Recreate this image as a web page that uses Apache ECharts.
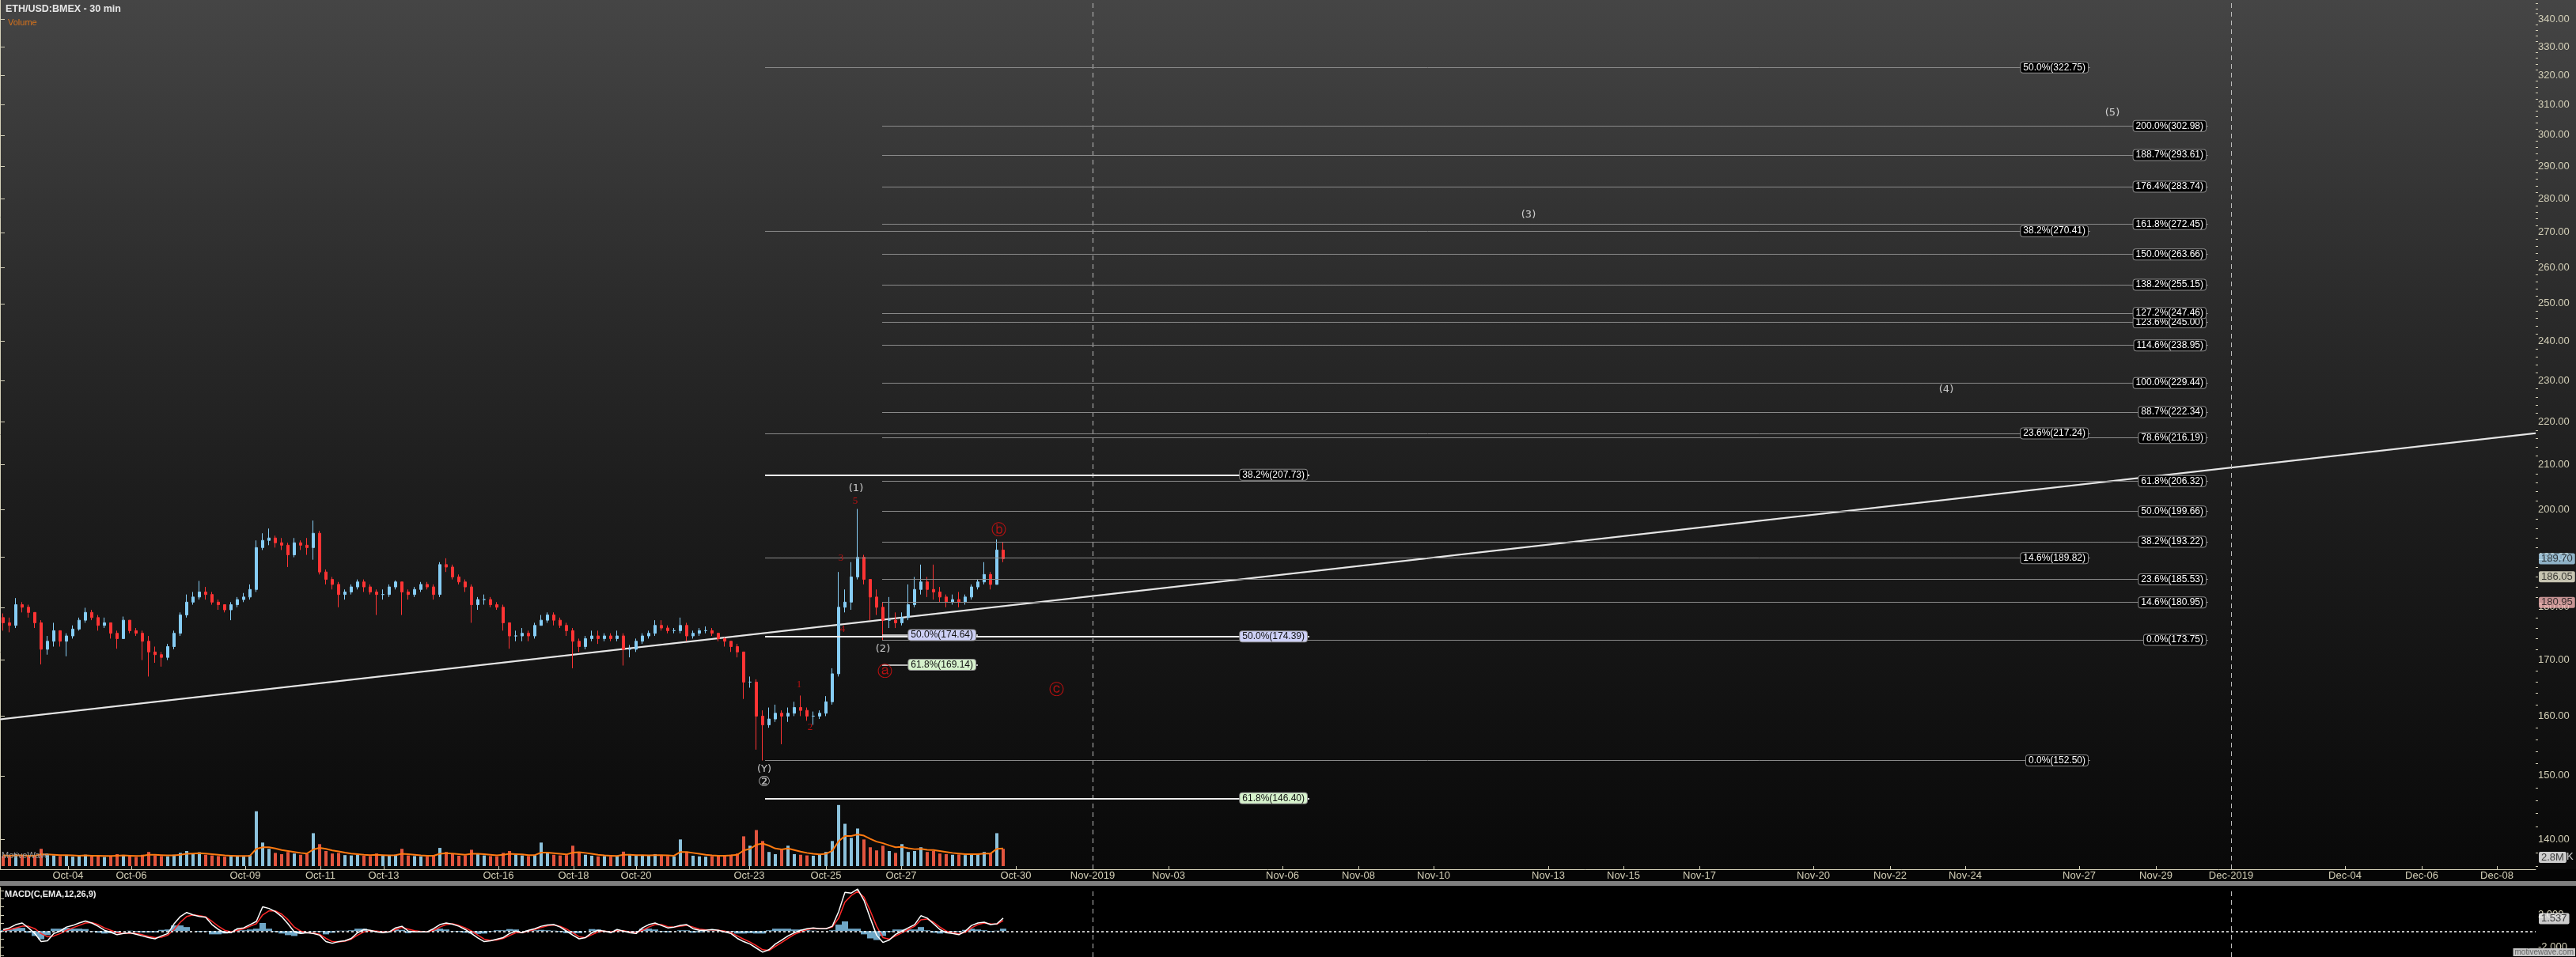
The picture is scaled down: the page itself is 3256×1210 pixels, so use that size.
<!DOCTYPE html>
<html><head><meta charset="utf-8">
<script src="https://cdn.jsdelivr.net/npm/echarts@6/dist/echarts.min.js"></script>
<style>
html,body{margin:0;padding:0;background:#000;}
#c{width:3256px;height:1210px;background:linear-gradient(to bottom,#454545 0px,#2b2b2b 380px,#1d1d1d 620px,#0b0b0b 1050px,#090909 1099px,#050505 1099px,#050505 1114px,#7f7f7f 1114px,#7f7f7f 1120px,#000 1120px,#000 1210px);}
</style></head><body><div id="c"></div><script>
// ---------- DATA ----------
const barsPerCandle = 8; // one drawn candle = 8 thirty-minute bars (4h)
// [open, close, low, high]
const ohlc = [
[178.0,177.0,175.5,178.8],[177.0,176.5,175.2,178.0],[176.5,180.5,176.0,181.8],[180.5,180.0,179.0,181.0],[180.0,179.0,178.0,180.5],
[179.0,177.0,176.0,179.0],[177.0,172.0,169.2,177.5],[172.0,173.5,171.0,174.5],[173.5,175.5,172.5,177.0],[175.5,173.5,172.5,175.5],
[173.5,174.5,170.7,175.0],[174.5,175.8,174.0,176.5],[175.8,177.5,175.5,178.0],[177.5,179.0,177.0,179.9],[179.0,178.0,177.5,179.5],
[178.0,176.5,175.5,178.5],[176.5,177.0,176.0,178.0],[177.0,175.0,174.0,177.0],[175.0,174.0,172.1,175.5],[174.0,177.5,174.0,178.2],
[177.5,175.5,175.0,177.5],[175.5,175.0,174.5,176.0],[175.0,173.5,170.0,175.5],[173.5,171.5,167.0,174.5],[171.5,171.0,169.5,172.5],
[171.0,170.5,168.8,171.5],[170.5,172.5,170.0,173.0],[172.5,175.0,172.0,175.5],[175.0,178.5,174.5,179.0],[178.5,181.0,178.0,182.5],
[181.0,182.0,180.5,183.0],[182.0,183.0,181.5,185.2],[183.0,182.5,181.5,184.0],[182.5,181.0,180.5,183.0],[181.0,180.5,179.5,181.5],
[180.5,179.5,179.0,180.5],[179.5,180.5,177.5,181.0],[180.5,181.5,180.0,182.0],[181.5,182.0,181.0,182.8],[182.0,183.5,181.5,184.5],
[183.5,192.0,183.0,193.5],[192.0,193.5,191.5,195.0],[193.5,194.0,192.5,196.0],[194.0,193.0,192.0,194.5],[193.0,192.5,191.5,194.0],
[192.5,190.5,188.0,193.0],[190.5,193.0,190.0,194.0],[193.0,192.5,191.5,193.5],[192.5,192.0,190.5,194.0],[192.0,195.0,189.5,197.7],
[195.0,187.0,186.5,195.5],[187.0,185.5,184.5,187.5],[185.5,184.5,183.5,186.0],[184.5,182.5,180.0,185.0],[182.5,183.0,181.5,183.5],
[183.0,184.0,182.5,184.5],[184.0,185.0,183.5,185.5],[185.0,184.0,183.0,185.5],[184.0,183.0,182.5,184.5],[183.0,182.5,178.5,183.5],
[182.5,182.5,181.5,183.5],[182.5,184.0,182.0,184.5],[184.0,185.0,183.5,185.3],[185.0,183.0,178.5,185.0],[183.0,182.5,181.5,183.5],
[182.5,183.5,182.0,184.0],[183.5,184.5,183.0,185.0],[184.5,184.0,183.5,185.0],[184.0,182.5,181.5,184.5],[182.5,188.5,182.0,189.0],
[188.5,188.0,187.0,189.8],[188.0,186.0,185.5,188.5],[186.0,185.0,184.5,186.5],[185.0,184.0,183.0,185.5],[184.0,180.5,177.0,184.5],
[180.5,181.5,179.5,182.0],[181.5,181.5,180.5,182.5],[181.5,180.5,180.0,182.0],[180.5,180.0,179.5,181.0],[180.0,177.0,175.5,180.5],
[177.0,174.5,172.1,177.0],[174.5,174.5,173.5,175.5],[174.5,175.0,173.5,176.0],[175.0,174.5,173.5,175.5],[174.5,176.5,174.0,177.0],
[176.5,177.5,176.5,178.5],[177.5,178.5,177.0,179.0],[178.5,177.5,176.5,179.0],[177.5,176.5,176.0,178.0],[176.5,175.5,174.5,177.0],
[175.5,173.5,168.5,176.0],[173.5,172.5,171.5,174.0],[172.5,174.0,172.0,174.5],[174.0,174.5,173.5,175.5],[174.5,174.0,173.0,175.5],
[174.0,174.5,173.5,175.0],[174.5,174.0,173.5,175.0],[174.0,174.5,173.5,175.5],[174.5,172.0,169.0,175.0],[172.0,172.0,170.5,172.8],
[172.0,173.5,171.5,174.0],[173.5,174.5,173.0,175.0],[174.5,175.0,174.0,175.5],[175.0,176.5,174.5,177.5],[176.5,176.0,175.5,177.5],
[176.0,175.5,175.0,176.5],[175.5,175.5,175.0,176.0],[175.5,176.5,175.0,178.0],[176.5,174.5,173.5,177.0],[174.5,175.0,174.0,175.5],
[175.0,175.5,174.5,176.0],[175.5,175.5,175.0,176.3],[175.5,175.0,174.5,176.0],[175.0,174.0,173.5,175.0],[174.0,173.5,172.5,174.2],
[173.5,172.5,171.5,173.5],[172.5,171.5,170.5,173.0],[171.5,166.0,163.0,171.5],[166.0,166.0,165.0,167.0],[166.0,160.0,154.3,166.5],
[160.0,158.5,152.5,161.0],[158.5,159.5,158.0,161.5],[159.5,160.5,159.0,162.0],[160.5,160.0,155.2,161.0],[160.0,160.5,159.0,161.5],
[160.5,161.5,160.0,162.5],[161.5,161.0,160.0,163.6],[161.0,160.0,159.2,161.5],[160.0,160.0,158.5,160.8],[160.0,160.5,159.5,161.0],
[160.5,162.5,160.0,163.5],[162.5,167.5,162.0,168.5],[167.5,180.0,167.0,187.0],[180.0,181.0,179.0,183.5],[181.0,186.0,179.5,189.0],
[186.0,190.0,185.5,200.2],[190.0,185.5,184.5,190.5],[185.5,182.0,177.5,185.5],[182.0,180.0,178.5,183.5],[180.0,177.5,173.7,181.0],
[177.5,177.5,176.0,182.0],[177.5,177.0,176.0,179.0],[177.0,178.0,176.5,179.0],[178.0,180.5,177.5,184.5],[180.5,183.5,180.0,186.0],
[183.5,185.0,182.5,188.5],[185.0,183.5,182.0,186.0],[183.5,183.0,181.5,188.5],[183.0,182.0,181.0,184.0],[182.0,181.0,180.0,182.5],
[181.0,181.5,180.5,182.5],[181.5,181.0,180.0,183.0],[181.0,182.0,180.5,182.5],[182.0,184.0,181.5,184.5],[184.0,185.0,183.5,185.5],
[185.0,186.5,184.5,189.0],[186.5,184.5,183.5,187.0],[184.5,191.5,184.5,193.7],[191.5,189.7,189.0,193.2]
];
// volume (millions, per 30-min bar as shown)
const volume = [
3.2,3.0,3.8,3.4,3.1,3.3,5.5,3.6,3.4,3.2, 3.5,3.0,3.2,3.6,3.1,3.3,2.9,3.2,3.8,3.5,
3.1,2.9,3.6,4.5,3.4,3.2,3.1,3.6,4.2,4.8, 3.9,4.4,3.6,3.4,3.2,3.0,3.3,3.1,3.0,3.5,
17.5,7.5,5.5,4.2,3.8,4.5,4.0,3.6,3.9,10.5, 7.0,4.8,4.0,4.2,3.5,3.4,3.6,3.3,3.2,4.0,
3.3,3.4,3.6,5.5,3.4,3.2,3.1,3.0,3.5,5.8, 4.5,3.8,3.3,3.4,5.2,3.8,3.4,3.2,3.1,4.2,
4.8,3.6,3.4,3.2,3.5,7.5,4.2,3.6,3.4,3.5, 6.5,4.5,3.6,3.3,3.1,3.2,3.0,3.1,4.6,3.8,
3.4,3.5,3.3,3.8,3.4,3.2,3.1,8.5,4.4,3.3, 3.1,3.0,3.2,3.4,3.3,3.6,4.0,9.5,6.5,11.5,
8.0,4.5,3.8,5.5,6.5,3.8,3.6,3.4,3.3,3.6, 4.5,8.0,19.5,13.5,9.0,12.0,8.5,6.0,5.0,6.5,
4.8,4.2,7.0,4.5,4.8,6.0,4.5,4.8,4.0,3.8, 3.6,3.7,3.5,4.0,3.8,4.5,4.0,10.5,5.5
];
const volumeMA = [
3.4,3.3,3.4,3.4,3.3,3.3,3.7,3.7,3.6,3.5, 3.5,3.4,3.3,3.4,3.3,3.3,3.2,3.2,3.3,3.4,
3.3,3.2,3.3,3.6,3.6,3.5,3.4,3.4,3.6,3.9, 4.0,4.1,4.0,3.8,3.6,3.4,3.3,3.2,3.2,3.3,
5.5,6.0,6.0,5.6,5.1,4.8,4.5,4.2,4.0,5.3, 5.8,5.5,5.0,4.7,4.3,4.0,3.8,3.6,3.5,3.6,
3.5,3.4,3.5,3.9,3.8,3.6,3.4,3.3,3.3,3.9, 4.1,4.0,3.8,3.6,3.9,3.9,3.8,3.6,3.4,3.6,
3.9,3.8,3.7,3.5,3.5,4.3,4.3,4.1,3.9,3.7, 4.3,4.4,4.2,3.9,3.6,3.4,3.3,3.2,3.6,3.6,
3.5,3.5,3.4,3.5,3.5,3.4,3.3,4.5,4.5,4.2, 3.9,3.6,3.4,3.3,3.3,3.4,3.6,5.0,5.5,6.8,
7.2,6.5,5.6,5.3,5.6,5.1,4.6,4.2,3.9,3.7, 3.9,4.9,7.9,9.6,9.6,10.1,9.7,8.7,7.8,7.3,
6.6,6.0,6.1,5.7,5.4,5.5,5.2,5.1,4.8,4.5, 4.2,4.0,3.8,3.8,3.8,4.0,4.0,5.5,5.6
];
const macdLine = [
0.2,0.4,0.8,1.0,0.4,-0.3,-1.3,-1.2,-0.3,0.0, 0.5,0.7,1.0,1.25,1.0,0.6,0.1,-0.15,-0.45,-0.3,
-0.2,-0.4,-0.6,-0.8,-0.95,-0.6,-0.3,0.9,1.8,2.3, 2.0,1.8,1.7,0.8,0.2,-0.2,-0.2,0.3,0.4,0.8,
1.2,3.0,2.8,2.4,1.8,0.9,-0.1,-0.3,-0.2,-0.3, -0.5,-1.3,-1.5,-1.3,-1.2,-0.9,-0.2,0.2,0.1,-0.1,
-0.2,-0.1,0.4,0.6,0.0,-0.1,-0.1,-0.1,0.3,0.8, 1.0,0.85,0.6,0.2,-0.3,-0.85,-1.3,-1.2,-1.0,-0.8,
-0.3,0.0,-0.2,0.1,0.3,0.6,0.75,0.8,0.5,0.0, -0.5,-0.95,-0.8,-0.2,0.1,0.0,-0.2,0.2,0.0,-0.2,
-0.3,0.4,0.8,1.0,0.7,0.4,0.5,0.7,0.8,0.3, 0.1,0.1,0.2,0.1,-0.1,-0.3,-0.9,-1.3,-1.6,-2.1,
-2.6,-2.3,-1.6,-1.1,-0.6,-0.2,0.1,0.3,0.4,0.3, 0.3,0.6,2.4,4.8,4.7,5.2,3.8,1.6,-0.5,-1.4,
-1.1,-0.4,0.0,0.4,0.8,1.9,1.6,0.9,0.2,-0.2, -0.3,-0.45,0.0,0.7,1.0,1.1,0.8,0.9,1.6
];
const signalLine = [
0.1,0.2,0.4,0.6,0.6,0.3,-0.3,-0.7,-0.6,-0.3, 0.1,0.4,0.7,1.0,1.05,0.8,0.4,0.1,-0.2,-0.3,
-0.25,-0.3,-0.45,-0.65,-0.8,-0.75,-0.5,0.2,1.1,1.8, 2.0,1.9,1.75,1.2,0.6,0.1,-0.1,0.1,0.3,0.6,
0.9,2.0,2.5,2.5,2.1,1.4,0.5,0.0,-0.2,-0.25, -0.4,-0.9,-1.3,-1.35,-1.25,-1.0,-0.5,-0.1,0.05,0.0,
-0.1,-0.1,0.2,0.45,0.25,0.05,-0.05,-0.1,0.1,0.5, 0.8,0.9,0.7,0.4,0.0,-0.5,-1.0,-1.15,-1.1,-0.9,
-0.55,-0.2,-0.2,0.0,0.2,0.45,0.65,0.75,0.6,0.25, -0.2,-0.7,-0.8,-0.45,-0.1,0.0,-0.1,0.05,0.05,-0.1,
-0.2,0.1,0.5,0.8,0.8,0.55,0.5,0.6,0.7,0.5, 0.25,0.15,0.15,0.1,0.0,-0.2,-0.6,-1.0,-1.35,-1.8,
-2.3,-2.4,-1.9,-1.4,-0.9,-0.4,-0.1,0.2,0.35,0.3, 0.3,0.5,1.6,3.6,4.4,4.9,4.2,2.5,0.6,-0.8,
-1.0,-0.6,-0.2,0.2,0.6,1.4,1.5,1.1,0.5,0.0, -0.2,-0.35,-0.15,0.4,0.8,1.0,0.9,0.85,1.3
];
const macdHist = [
0.1,0.2,0.4,0.4,-0.2,-0.6,-1.0,-0.5,0.3,0.3, 0.4,0.3,0.3,0.25,-0.05,-0.2,-0.3,-0.25,-0.25,0.0,
0.05,-0.1,-0.15,-0.15,-0.15,0.15,0.2,0.7,0.7,0.5, 0.0,-0.1,-0.05,-0.4,-0.4,-0.3,-0.1,0.2,0.1,0.2,
0.3,1.0,0.3,-0.1,-0.3,-0.5,-0.6,-0.3,0.0,-0.05, -0.1,-0.4,-0.2,0.05,0.05,0.1,0.3,0.3,0.05,-0.1,
-0.1,0.0,0.2,0.15,-0.25,-0.15,-0.05,0.0,0.2,0.3, 0.2,-0.05,-0.1,-0.2,-0.3,-0.35,-0.3,-0.05,0.1,0.1,
0.25,0.2,0.0,0.1,0.1,0.15,0.1,0.05,-0.1,-0.25, -0.3,-0.25,0.0,0.25,0.2,0.0,-0.1,0.15,-0.05,-0.1,
-0.1,0.3,0.3,0.2,-0.1,-0.15,0.0,0.1,0.1,-0.2, -0.15,-0.05,0.05,0.0,-0.1,-0.1,-0.3,-0.3,-0.25,-0.3,
-0.3,0.1,0.3,0.3,0.3,0.2,0.2,0.1,0.05,0.0, 0.0,0.1,0.8,1.2,0.3,0.3,-0.4,-0.9,-1.1,-0.6,
-0.1,0.2,0.2,0.2,0.2,0.5,0.1,-0.2,-0.3,-0.2, -0.1,-0.1,0.15,0.3,0.2,0.1,-0.1,0.05,0.3
];
// x axis (in 30-min bar units)
const xTickBars = [86,166,310,405,485,630,725,804,947,1044,1139,1284,1381,1477,1621,1717,1812,1957,2052,2148,2292,2389,2484,2628,2725,2820,2964,3061,3156];
const xTickLabels = ['Oct-04','Oct-06','Oct-09','Oct-11','Oct-13','Oct-16','Oct-18','Oct-20','Oct-23','Oct-25','Oct-27','Oct-30','Nov-2019','Nov-03','Nov-06','Nov-08','Nov-10','Nov-13','Nov-15','Nov-17','Nov-20','Nov-22','Nov-24','Nov-27','Nov-29','Dec-2019','Dec-04','Dec-06','Dec-08'];
const monthLines = [1381, 2820];
const priceTicks = [140,150,160,170,180,190,200,210,220,230,240,250,260,270,280,290,300,310,320,330,340];
const macdTicks = [-2, 2];
// Fibonacci levels
const fibOuter = [[322.75,'50.0%'],[270.41,'38.2%'],[217.24,'23.6%'],[189.82,'14.6%'],[152.50,'0.0%']];
const fibExt = [[302.98,'200.0%'],[293.61,'188.7%'],[283.74,'176.4%'],[272.45,'161.8%'],[263.66,'150.0%'],[255.15,'138.2%'],[245.00,'123.6%'],[247.46,'127.2%'],[238.95,'114.6%'],[229.44,'100.0%'],[222.34,'88.7%'],[216.19,'78.6%'],[206.32,'61.8%'],[199.66,'50.0%'],[193.22,'38.2%'],[185.53,'23.6%'],[180.95,'14.6%'],[173.75,'0.0%']];
const fibMain = [[207.73,'38.2%','k'],[174.39,'50.0%','v'],[146.40,'61.8%','g']];
const fibShort = [[174.64,'50.0%','v'],[169.14,'61.8%','g']];
const trendLine = [[0,159.45],[3205,217.3]];
const waveWhite = [[2670,307.4,'(5)'],[1932,275.3,'(3)'],[2460,227.7,'(4)'],[1082,204.6,'(1)'],[1116,172.0,'(2)'],[966,151.0,'(Y)']];
const waveWhiteCircle = [[966,148.9,'\u2461']];
const waveRed = [[1081,201.9,'5'],[1063,189.9,'3'],[1065,175.8,'4'],[1010,165.6,'1'],[1024,158.1,'2']];
const waveRedCircle = [[1262,195.6,'\u24d1'],[1118,167.7,'\u24d0'],[1335,164.5,'\u24d2']];
const priceMarkers = [[189.70,'#acd8f2'],[186.05,'#f2f0d8'],[180.95,'#f4b4b4']];
const lastVolume = 2.8;
const lastMacd = 1.537;

// ---------- CHART ----------
const FONT = 'Liberation Sans, Arial, sans-serif';
const AXIS_COL = '#d4d0b8';
const XMAX = 3205;
const cx = i => i * barsPerCandle + barsPerCandle / 2;
const minor = [];
for (let v = 136; v <= 346; v += 2) if (v % 10 !== 0) minor.push(v);
const labelMap = {};
xTickBars.forEach((b, i) => labelMap[b] = xTickLabels[i]);

const boxBg = {k: '#000000', v: '#cdd0f6', g: '#d6f2cc'};
const boxFg = {k: '#ffffff', v: '#101010', g: '#101010'};
function fibItem(x1, x2, price, pct, kind, lineCol, lw) {
  return [{
    coord: [x1, price],
    lineStyle: {color: lineCol, width: lw, type: 'solid'},
    label: {show: true, position: 'insideEnd', distance: 3, formatter: pct + '(' + price.toFixed(2) + ')',
      color: boxFg[kind], backgroundColor: boxBg[kind], borderColor: '#8c8c8c', borderWidth: 1,
      borderRadius: 3, padding: [1, 3, 0, 3], fontSize: 12, fontFamily: FONT}
  }, {coord: [x2, price]}];
}
const markData = [];
monthLines.forEach(x => markData.push({xAxis: x, lineStyle: {type: [6, 5], color: '#bdbdbd', width: 1}, label: {show: false}}));
fibOuter.forEach(f => markData.push(fibItem(967, 2642, f[0], f[1], 'k', '#8a8a8a', 1)));
fibExt.forEach(f => markData.push(fibItem(1115, 2791, f[0], f[1], 'k', '#8a8a8a', 1)));
fibMain.forEach(f => markData.push(fibItem(967, 1655, f[0], f[1], f[2], '#ececec', 2)));
fibShort.forEach(f => markData.push(fibItem(1115, 1236, f[0], f[1], f[2], '#ececec', 1.5)));

const candleData = ohlc.map((d, i) => [cx(i), d[0], d[1], d[2], d[3]]);
const volData = volume.map((v, i) => ({value: [cx(i), v], itemStyle: {color: ohlc[i][1] >= ohlc[i][0] ? '#8cc2dc' : '#e2553f'}}));

const chart = echarts.init(document.getElementById('c'), null, {renderer: 'canvas'});
chart.setOption({
  backgroundColor: 'transparent',
  animation: false,
  textStyle: {fontFamily: FONT},
  title: [
    {text: 'ETH/USD:BMEX - 30 min', left: 7, top: 5, padding: 0, textStyle: {color: '#e6e6e6', fontSize: 12.5, fontWeight: 'bold', fontFamily: FONT}},
    {text: 'Volume', left: 10, top: 23, padding: 0, textStyle: {color: '#d8731c', fontSize: 11, fontWeight: 'normal', fontFamily: FONT}},
    {text: 'MotiveWave', left: 2, top: 1076, padding: 0, textStyle: {color: '#a0a0a0', fontSize: 11, fontWeight: 'normal', fontFamily: FONT}},
    {text: 'MACD(C,EMA,12,26,9)', left: 6, top: 1125, padding: 0, textStyle: {color: '#f0f0f0', fontSize: 11, fontWeight: 'bold', fontFamily: FONT}},
    {text: 'motivewave.com', right: 1, top: 1199, padding: [0, 2], backgroundColor: '#c4c4c4', textStyle: {color: '#666', fontSize: 10, fontWeight: 'normal', fontFamily: FONT}}
  ],
  grid: [
    {left: 0, right: 51, top: 0, height: 1099},
    {left: 0, right: 51, top: 1000, height: 95},
    {left: 0, right: 51, top: 1122, height: 88}
  ],
  xAxis: [
    {gridIndex: 0, type: 'value', min: 0, max: XMAX, splitLine: {show: false},
     axisLine: {show: true, lineStyle: {color: AXIS_COL, width: 1}},
     axisTick: {show: true, inside: true, length: 4, customValues: xTickBars, lineStyle: {color: AXIS_COL}},
     axisLabel: {show: true, customValues: xTickBars, formatter: v => labelMap[v] || '', color: AXIS_COL, fontSize: 13, margin: 2, fontFamily: FONT}},
    {gridIndex: 1, type: 'value', min: 0, max: XMAX, show: false},
    {gridIndex: 2, type: 'value', min: 0, max: XMAX, show: false}
  ],
  yAxis: [
    {gridIndex: 0, type: 'log', logBase: 10, min: 135.58, max: 347.2, position: 'right', splitLine: {show: false},
     axisLine: {show: true, lineStyle: {color: AXIS_COL}},
     axisTick: {show: true, length: 6, customValues: priceTicks, lineStyle: {color: AXIS_COL}},
     axisLabel: {show: true, customValues: priceTicks, formatter: v => Number(v).toFixed(2), color: AXIS_COL, fontSize: 13, margin: 3, fontFamily: FONT}},
    {gridIndex: 0, type: 'log', logBase: 10, min: 135.58, max: 347.2, position: 'right', splitLine: {show: false},
     axisLine: {show: false}, axisLabel: {show: false},
     axisTick: {show: true, length: 3, customValues: minor, lineStyle: {color: AXIS_COL}}},
    {gridIndex: 1, type: 'value', min: 0, max: 24, show: false},
    {gridIndex: 2, type: 'value', min: -3.2, max: 5.4, position: 'right', splitLine: {show: false},
     axisLine: {show: true, lineStyle: {color: AXIS_COL}},
     axisTick: {show: true, length: 5, customValues: [-3,-2,-1,0,1,2,3,4,5], lineStyle: {color: AXIS_COL}},
     axisLabel: {show: true, customValues: macdTicks, formatter: v => Number(v).toFixed(3), color: AXIS_COL, fontSize: 13, margin: 3, fontFamily: FONT}}
  ],
  series: [
    {type: 'bar', name: 'vol', xAxisIndex: 1, yAxisIndex: 2, data: volData, barWidth: 4, silent: true},
    {type: 'line', name: 'volma', xAxisIndex: 1, yAxisIndex: 2, data: volumeMA.map((v, i) => [cx(i), v]), symbol: 'none',
     lineStyle: {color: '#ff7a10', width: 2}, silent: true},
    {type: 'line', name: 'trend', xAxisIndex: 0, yAxisIndex: 0, data: trendLine, symbol: 'none', silent: true,
     lineStyle: {color: '#e8e8e8', width: 2, shadowColor: 'rgba(120,120,120,0.9)', shadowBlur: 1}, z: 3,
     markLine: {silent: true, symbol: ['none', 'none'], label: {show: false}, data: markData, animation: false}},
    {type: 'candlestick', name: 'price', xAxisIndex: 0, yAxisIndex: 0, data: candleData, barWidth: 4, silent: true, z: 4,
     itemStyle: {color: '#86cdf5', color0: '#ff3434', borderColor: '#86cdf5', borderColor0: '#ff3434', borderWidth: 1}},
    {type: 'scatter', name: 'wavesW', xAxisIndex: 0, yAxisIndex: 0, data: waveWhite, symbolSize: 0, silent: true, z: 6,
     label: {show: true, position: 'inside', formatter: p => p.data[2], color: '#f2f2f2', fontSize: 13, fontFamily: 'DejaVu Sans, sans-serif'}},
    {type: 'scatter', name: 'wavesWC', xAxisIndex: 0, yAxisIndex: 0, data: waveWhiteCircle, symbolSize: 0, silent: true, z: 6,
     label: {show: true, position: 'inside', formatter: p => p.data[2], color: '#f2f2f2', fontSize: 18, fontFamily: 'DejaVu Sans, sans-serif'}},
    {type: 'scatter', name: 'wavesR', xAxisIndex: 0, yAxisIndex: 0, data: waveRed, symbolSize: 0, silent: true, z: 6,
     label: {show: true, position: 'inside', formatter: p => p.data[2], color: '#e01010', fontSize: 13, fontFamily: 'Liberation Serif, serif'}},
    {type: 'scatter', name: 'wavesRC', xAxisIndex: 0, yAxisIndex: 0, data: waveRedCircle, symbolSize: 0, silent: true, z: 6,
     label: {show: true, position: 'inside', formatter: p => p.data[2], color: '#e01010', fontSize: 19, fontFamily: 'DejaVu Sans, sans-serif'}},
    {type: 'scatter', name: 'pmark', xAxisIndex: 0, yAxisIndex: 0, symbolSize: 0, silent: true, z: 7, clip: false,
     data: priceMarkers.map(m => ({value: [XMAX, m[0]], label: {backgroundColor: m[1]}})),
     label: {show: true, position: 'right', distance: 4, formatter: p => p.value[1].toFixed(2), color: '#111', fontSize: 13,
       padding: [1, 3, 0, 3], borderRadius: 2, fontFamily: FONT}},
    {type: 'scatter', name: 'vmark', xAxisIndex: 1, yAxisIndex: 2, symbolSize: 0, silent: true, z: 7, clip: false,
     data: [[XMAX, lastVolume]],
     label: {show: true, position: 'right', distance: 4, formatter: '{a|' + lastVolume + 'M}{k|K}',
       rich: {a: {backgroundColor: '#ffffff', color: '#111', fontSize: 13, padding: [1, 3, 0, 3], borderRadius: 2, fontFamily: FONT},
              k: {color: '#ffffff', fontSize: 13, fontFamily: FONT}}}},
    {type: 'bar', name: 'hist', xAxisIndex: 2, yAxisIndex: 3, data: macdHist.map((v, i) => [cx(i), v]), barWidth: 8,
     itemStyle: {color: '#6ea6c6'}, silent: true,
     markLine: {silent: true, symbol: ['none', 'none'], label: {show: false}, animation: false,
       data: [{yAxis: 0, lineStyle: {type: [3, 3], color: '#ffffff', width: 1.5}}]
         .concat(monthLines.map(x => ({xAxis: x, lineStyle: {type: [6, 5], color: '#bdbdbd', width: 1}})))}},
    {type: 'line', name: 'signal', xAxisIndex: 2, yAxisIndex: 3, data: signalLine.map((v, i) => [cx(i), v]), symbol: 'none',
     lineStyle: {color: '#ff2a2a', width: 1.5}, silent: true},
    {type: 'line', name: 'macd', xAxisIndex: 2, yAxisIndex: 3, data: macdLine.map((v, i) => [cx(i), v]), symbol: 'none',
     lineStyle: {color: '#ffffff', width: 1.5}, silent: true},
    {type: 'scatter', name: 'mmark', xAxisIndex: 2, yAxisIndex: 3, symbolSize: 0, silent: true, z: 7, clip: false,
     data: [[XMAX, lastMacd]],
     label: {show: true, position: 'right', distance: 4, formatter: String(lastMacd), color: '#111', fontSize: 13,
       backgroundColor: '#ffffff', padding: [1, 3, 0, 3], borderRadius: 2, fontFamily: FONT}}
  ]
});
</script></body></html>
